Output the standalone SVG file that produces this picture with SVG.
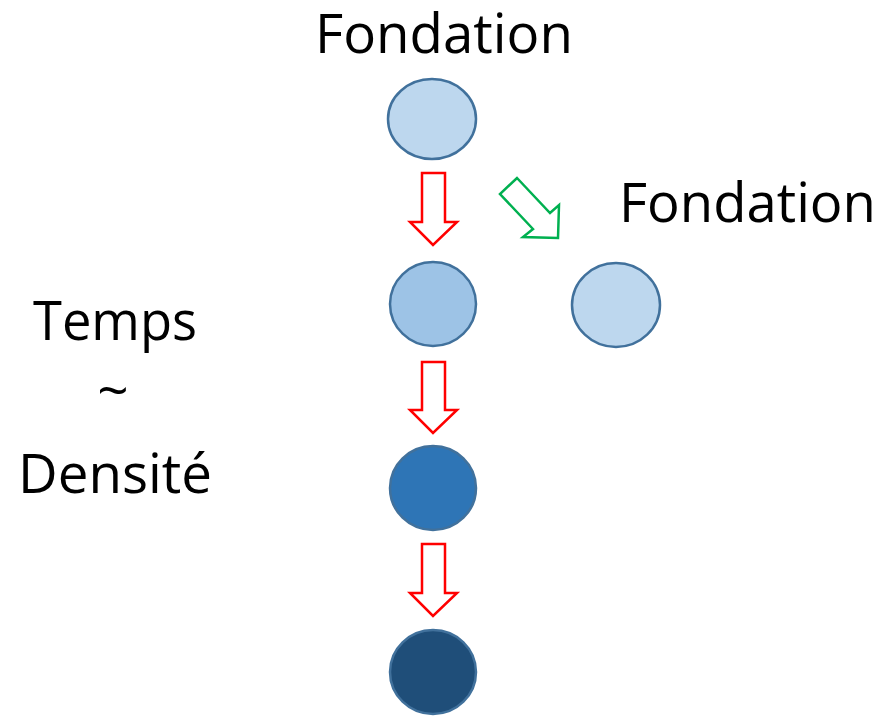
<svg xmlns="http://www.w3.org/2000/svg" width="884" height="717" viewBox="0 0 884 717">
<style>
.lbl{font-family:"Open Sans","Noto Sans","Liberation Sans",sans-serif;font-size:55px;fill:#000}
.node{stroke:#41719c;stroke-width:2.5}
.red{fill:#fff;stroke:#ff0000;stroke-width:2.5;stroke-linejoin:miter}
.green{fill:#fff;stroke:#00b050;stroke-width:2.5;stroke-linejoin:miter}
</style>
<rect width="884" height="717" fill="#fff"/>
<g id="labels">
<text class="lbl" x="315" y="53" textLength="258" lengthAdjust="spacingAndGlyphs">Fondation</text>
<text class="lbl" x="619" y="222" textLength="257" lengthAdjust="spacingAndGlyphs">Fondation</text>
<text class="lbl" x="33" y="340" textLength="164" lengthAdjust="spacingAndGlyphs">Temps</text>
<text class="lbl" x="113" y="410" text-anchor="middle">~</text>
<text class="lbl" x="18" y="493" textLength="194" lengthAdjust="spacingAndGlyphs">Densité</text>
</g>
<g id="node1"><ellipse class="node" cx="432" cy="119" rx="44" ry="40" fill="#bdd7ee"/></g>
<g id="node2"><ellipse class="node" cx="433" cy="304" rx="43" ry="42" fill="#9dc3e6"/></g>
<g id="node-right"><ellipse class="node" cx="616" cy="305" rx="44" ry="42" fill="#bdd7ee"/></g>
<g id="node3"><ellipse class="node" cx="433" cy="488" rx="43" ry="42" fill="#2e75b6" stroke-width="1.5"/></g>
<g id="node4"><ellipse class="node" cx="433" cy="672" rx="43" ry="42" fill="#1f4e79" stroke-width="2"/></g>
<g id="connectors">
<polygon class="red" points="422,173 445,173 445,222 457,222 433,245 410,222 422,222"/>
<polygon class="red" points="422,362 445,362 445,410 457,410 433,433 410,410 422,410"/>
<polygon class="red" points="422,544 445,544 445,593 457,593 433,616 410,593 422,593"/>
<polygon class="green" points="517,178 550,213 559,205 558,238 523,237 533,229 500,194"/>
</g>
</svg>
